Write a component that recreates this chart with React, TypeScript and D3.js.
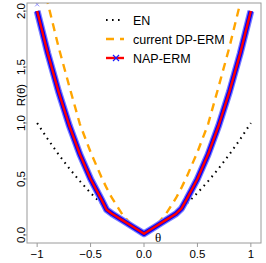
import React, { useRef, useEffect } from "react";
import * as d3 from "d3";

// theta grid
const thetas = [-1, -0.9, -0.8, -0.7, -0.6, -0.5, -0.4, -0.35, -0.3, -0.2, -0.1, 0, 0.1, 0.2, 0.3, 0.35, 0.4, 0.5, 0.6, 0.7, 0.8, 0.9, 1];
const enValues = [1.0, 0.855, 0.72, 0.595, 0.48, 0.375, 0.28, 0.235, 0.195, 0.12, 0.055, 0.0, 0.055, 0.12, 0.195, 0.235, 0.28, 0.375, 0.48, 0.595, 0.72, 0.855, 1.0];
const dpValues = [2.5, 2.07, 1.68, 1.33, 0.99, 0.74, 0.52, 0.42, 0.33, 0.18, 0.07, 0.0, 0.07, 0.18, 0.33, 0.42, 0.52, 0.74, 0.99, 1.33, 1.68, 2.07, 2.5];
const napValues = [2.0, 1.62, 1.28, 0.98, 0.72, 0.5, 0.32, 0.225, 0.19, 0.13, 0.07, 0.01, 0.07, 0.13, 0.19, 0.235, 0.32, 0.5, 0.72, 0.98, 1.28, 1.62, 2.0];

const xTicks = [-1, -0.5, 0, 0.5, 1];
const xTickLabels = ["\u22121", "\u22120.5", "0.0", "0.5", "1"];
const yTicks = [0, 0.5, 1, 1.5, 2];
const yTickLabels = ["0.0", "0.5", "1.0", "1.5", "2.0"];
const legendLabels = ["EN", "current DP-ERM", "NAP-ERM"];

const App: React.FC = () => {
    const svgRef = useRef<SVGSVGElement>(null);

    useEffect(() => {
        const svgEl = svgRef.current;
        if (!svgEl) return;
        const svg = d3.select(svgEl);
        svg.selectAll("*").remove();

        const left = 27, right = 261, top = 3, bottom = 243;
        const x = d3.scaleLinear().domain([-1.095, 1.095]).range([left, right]);
        const y = d3.scaleLinear().domain([-0.072, 2.072]).range([bottom, top]);
        const font = "'Liberation Sans', Arial, sans-serif";

        svg.append("rect").attr("width", 266).attr("height", 263).attr("fill", "white");

        svg.append("defs").append("clipPath").attr("id", "plotclip")
            .append("rect").attr("x", left).attr("y", top).attr("width", right - left).attr("height", bottom - top);

        const plot = svg.append("g").attr("clip-path", "url(#plotclip)");
        const line = (vals: number[]) =>
            d3.line<number>().x((_, i) => x(thetas[i])).y((d) => y(d))(vals) as string;

        // EN dotted
        plot.append("path").attr("d", line(enValues)).attr("fill", "none")
            .attr("stroke", "black").attr("stroke-width", 2).attr("stroke-dasharray", "1.6 4.4");

        // current DP-ERM dashed
        plot.append("path").attr("d", line(dpValues)).attr("fill", "none")
            .attr("stroke", "#FFA500").attr("stroke-width", 2.4).attr("stroke-dasharray", "8 6");

        // NAP-ERM: blue band of markers with red line on top
        plot.append("path").attr("d", line(napValues)).attr("fill", "none")
            .attr("stroke", "#7a7aff").attr("stroke-width", 7).attr("stroke-linejoin", "round");
        plot.append("path").attr("d", line(napValues)).attr("fill", "none")
            .attr("stroke", "#0000ff").attr("stroke-width", 4.6).attr("stroke-linejoin", "round");
        plot.append("path").attr("d", line(napValues)).attr("fill", "none")
            .attr("stroke", "red").attr("stroke-width", 2.4).attr("stroke-linejoin", "round");

        // stray marker at the top of the band
        const mx = x(thetas[0]), my = y(2.06), ms = 2;
        plot.append("path").attr("d", `M${mx - ms},${my - ms}L${mx + ms},${my + ms}M${mx - ms},${my + ms}L${mx + ms},${my - ms}`)
            .attr("stroke", "#8c8cff").attr("stroke-width", 1).attr("fill", "none");

        // box
        svg.append("rect").attr("x", left).attr("y", top).attr("width", right - left).attr("height", bottom - top)
            .attr("fill", "none").attr("stroke", "#9a9a9a").attr("stroke-width", 1);

        // x axis
        xTicks.forEach((t, i) => {
            svg.append("line").attr("x1", x(t)).attr("x2", x(t)).attr("y1", bottom).attr("y2", bottom + 4)
                .attr("stroke", "#9a9a9a");
            svg.append("text").attr("x", x(t)).attr("y", 258).attr("text-anchor", "middle")
                .attr("font-family", font).attr("font-size", 11.5).text(xTickLabels[i]);
        });

        // y axis
        yTicks.forEach((t, i) => {
            svg.append("line").attr("x1", left - 4).attr("x2", left).attr("y1", y(t)).attr("y2", y(t))
                .attr("stroke", "#9a9a9a");
            svg.append("text").attr("transform", `translate(24.5,${y(t)}) rotate(-90)`).attr("text-anchor", "middle")
                .attr("font-family", font).attr("font-size", 11.5).text(yTickLabels[i]);
        });

        svg.append("text").attr("transform", `translate(24.5,${(y(1) + y(1.5)) / 2}) rotate(-90)`)
            .attr("text-anchor", "middle").attr("font-family", font).attr("font-size", 11.5).text("R(θ)");

        svg.append("text").attr("x", 158).attr("y", 242).attr("text-anchor", "middle")
            .attr("font-family", "'Liberation Serif', serif").attr("font-size", 13).text("θ");

        // legend
        const lx0 = 106, lx1 = 124, tx = 133;
        legendLabels.forEach((lab, i) => {
            const cy = 20 + i * 19;
            svg.append("text").attr("x", tx).attr("y", cy + 4.5).attr("font-family", font)
                .attr("font-size", 12.5).text(lab);
            const sym = svg.append("line").attr("x1", lx0).attr("x2", lx1).attr("y1", cy).attr("y2", cy);
            if (i === 0) sym.attr("stroke", "black").attr("stroke-width", 2).attr("stroke-dasharray", "1.6 4.4");
            if (i === 1) sym.attr("stroke", "#FFA500").attr("stroke-width", 2.4).attr("stroke-dasharray", "8 6");
            if (i === 2) {
                sym.attr("stroke", "red").attr("stroke-width", 2.4);
                const cx = (lx0 + lx1) / 2 + 1, s = 3;
                svg.append("path").attr("d", `M${cx - s},${cy - s}L${cx + s},${cy + s}M${cx - s},${cy + s}L${cx + s},${cy - s}`)
                    .attr("stroke", "#1a1aff").attr("stroke-width", 1.2).attr("fill", "none");
            }
        });
    }, []);

    return <svg ref={svgRef} width={266} height={263} style={{ position: "absolute", left: 0, top: 0 }} />;
};

export default App;
